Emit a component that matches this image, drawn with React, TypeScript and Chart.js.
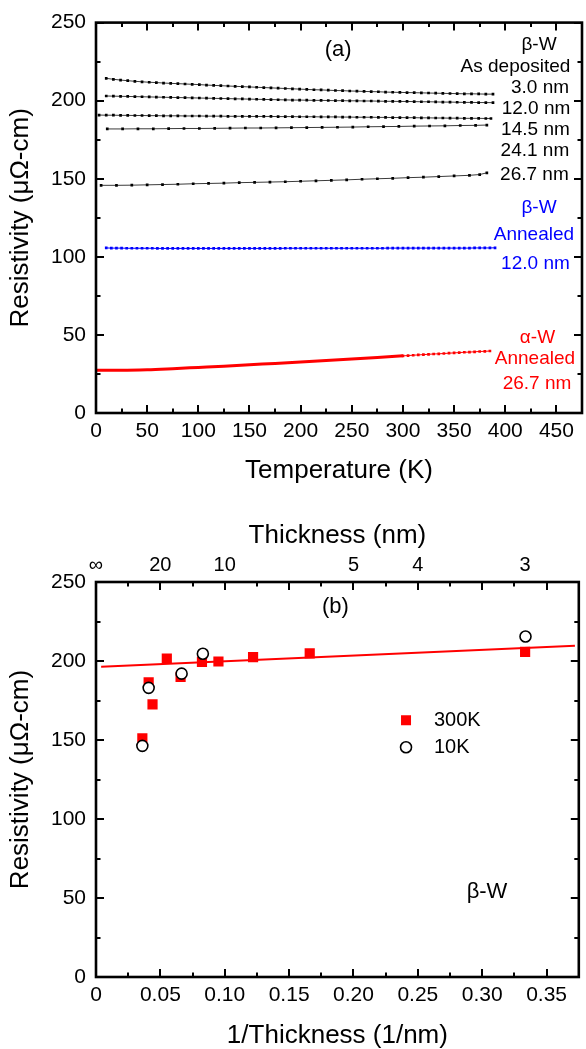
import React, { useEffect, useRef } from 'react';
import { Chart, registerables } from 'chart.js';

Chart.register(...registerables);

const FONT = "'Liberation Sans', Arial, Helvetica, sans-serif";

// ---------------- Panel (a): resistivity vs temperature ----------------
const TEMP_FINE = [10, 17, 24, 31, 38, 45, 52, 59, 66, 73, 80, 87, 94, 101, 108, 115, 122, 129, 136, 143, 150, 157, 164, 171, 178, 185, 192, 199, 206, 213, 220, 227, 234, 241, 248, 255, 262, 269, 276, 283, 290, 297, 304, 311, 318, 325, 332, 339, 346, 353, 360, 367, 374, 381, 388];
const RHO_3_0 = [214.3, 213.7, 213.2, 212.8, 212.4, 212.1, 211.8, 211.6, 211.3, 211.1, 210.9, 210.7, 210.5, 210.3, 210.0, 209.8, 209.6, 209.4, 209.2, 209.0, 208.8, 208.6, 208.4, 208.2, 208.0, 207.8, 207.6, 207.4, 207.2, 207.0, 206.9, 206.7, 206.5, 206.4, 206.2, 206.1, 205.9, 205.8, 205.7, 205.5, 205.4, 205.3, 205.2, 205.1, 205.0, 204.9, 204.8, 204.7, 204.6, 204.5, 204.4, 204.4, 204.3, 204.2, 204.2];
const RHO_12_0 = [203.0, 202.9, 202.8, 202.7, 202.6, 202.5, 202.4, 202.3, 202.2, 202.1, 202.0, 201.9, 201.8, 201.7, 201.6, 201.5, 201.4, 201.3, 201.2, 201.1, 201.0, 200.9, 200.8, 200.7, 200.6, 200.5, 200.4, 200.4, 200.3, 200.2, 200.2, 200.1, 200.0, 200.0, 199.9, 199.9, 199.8, 199.8, 199.7, 199.6, 199.6, 199.5, 199.5, 199.4, 199.3, 199.3, 199.2, 199.1, 199.1, 199.0, 198.9, 198.9, 198.8, 198.8, 198.7];
const TEMP_14_5 = [3, 10, 17, 24, 31, 38, 45, 52, 59, 66, 73, 80, 87, 94, 101, 108, 115, 122, 129, 136, 143, 150, 157, 164, 171, 178, 185, 192, 199, 206, 213, 220, 227, 234, 241, 248, 255, 262, 269, 276, 283, 290, 297, 304, 311, 318, 325, 332, 339, 346, 353, 360, 367, 374, 381, 386];
const RHO_14_5 = [190.8, 190.7, 190.7, 190.6, 190.6, 190.5, 190.5, 190.4, 190.4, 190.3, 190.3, 190.3, 190.2, 190.2, 190.2, 190.1, 190.1, 190.1, 190.0, 190.0, 190.0, 189.9, 189.9, 189.9, 189.9, 189.8, 189.8, 189.8, 189.7, 189.7, 189.7, 189.6, 189.6, 189.6, 189.5, 189.5, 189.4, 189.4, 189.4, 189.3, 189.3, 189.2, 189.2, 189.1, 189.1, 189.0, 189.0, 188.9, 188.9, 188.8, 188.8, 188.7, 188.7, 188.7, 188.6, 188.6];
const TEMP_24_1 = [11, 26, 41, 56, 71, 86, 101, 116, 131, 146, 161, 176, 191, 206, 221, 236, 251, 266, 281, 296, 311, 326, 341, 356, 371, 382];
const RHO_24_1 = [181.9, 181.9, 182.0, 182.0, 182.1, 182.2, 182.2, 182.3, 182.4, 182.5, 182.5, 182.6, 182.7, 182.8, 182.9, 183.0, 183.1, 183.3, 183.4, 183.5, 183.7, 183.8, 183.9, 184.1, 184.2, 184.4];
const TEMP_26_7 = [5, 20, 35, 50, 65, 80, 95, 110, 125, 140, 155, 170, 185, 200, 215, 230, 245, 260, 275, 290, 305, 320, 335, 350, 365, 375, 382];
const RHO_26_7 = [145.8, 145.8, 145.9, 146.1, 146.3, 146.5, 146.8, 147.0, 147.2, 147.5, 147.7, 147.9, 148.1, 148.4, 148.7, 149.0, 149.3, 149.7, 150.0, 150.3, 150.7, 151.0, 151.4, 151.8, 152.2, 152.7, 153.8];
const TEMP_BETA_ANN = [10, 15, 20, 25, 30, 35, 40, 45, 50, 55, 60, 65, 70, 75, 80, 85, 90, 95, 100, 105, 110, 115, 120, 125, 130, 135, 140, 145, 150, 155, 160, 165, 170, 175, 180, 185, 190, 195, 200, 205, 210, 215, 220, 225, 230, 235, 240, 245, 250, 255, 260, 265, 270, 275, 280, 285, 290, 295, 300, 305, 310, 315, 320, 325, 330, 335, 340, 345, 350, 355, 360, 365, 370, 375, 380, 385, 390];
const RHO_BETA_ANN = [105.7, 105.6, 105.6, 105.6, 105.5, 105.5, 105.5, 105.5, 105.5, 105.5, 105.4, 105.4, 105.4, 105.4, 105.4, 105.4, 105.4, 105.4, 105.4, 105.4, 105.4, 105.4, 105.4, 105.4, 105.4, 105.4, 105.4, 105.4, 105.4, 105.4, 105.4, 105.4, 105.4, 105.4, 105.4, 105.5, 105.5, 105.5, 105.5, 105.5, 105.5, 105.5, 105.5, 105.5, 105.5, 105.5, 105.5, 105.5, 105.5, 105.5, 105.5, 105.5, 105.5, 105.5, 105.5, 105.6, 105.6, 105.6, 105.6, 105.6, 105.6, 105.6, 105.6, 105.6, 105.6, 105.6, 105.6, 105.6, 105.6, 105.6, 105.6, 105.6, 105.7, 105.7, 105.7, 105.7, 105.8];
const TEMP_ALPHA_SOLID = [0, 25, 50, 75, 100, 125, 150, 175, 200, 225, 250, 275, 300];
const RHO_ALPHA_SOLID = [27.4, 27.4, 27.7, 28.4, 29.2, 30.0, 30.9, 31.7, 32.6, 33.6, 34.6, 35.6, 36.6];
const TEMP_ALPHA_DOT = [300, 305, 310, 315, 320, 325, 330, 335, 340, 345, 350, 355, 360, 365, 370, 375, 380, 385];
const RHO_ALPHA_DOT = [36.6, 36.8, 37.0, 37.2, 37.4, 37.6, 37.8, 37.9, 38.1, 38.3, 38.5, 38.7, 38.9, 39.0, 39.2, 39.4, 39.5, 39.7];

// ---------------- Panel (b): resistivity vs 1/thickness ----------------
const INV_T_300K = [0.036, 0.0409, 0.0439, 0.055, 0.0657, 0.0823, 0.0951, 0.122, 0.166, 0.3333];
const RHO_300K = [151, 186.5, 172.5, 201.5, 190, 199.5, 199.7, 202.5, 204.8, 205.8];
const INV_T_10K = [0.036, 0.0409, 0.0665, 0.083, 0.3336];
const RHO_10K = [146.3, 183, 192, 204.6, 215.5];
const FIT_X = [0.004, 0.372];
const FIT_Y = [196.3, 209.6];
const TOP_TICK_VALUES = [0, 0.05, 0.1, 0.2, 0.25, 1 / 3];
const TOP_TICK_LABELS = ['∞', '20', '10', '5', '4', '3'];

const BLUE = '#0000ff';
const RED = '#ff0000';

type Note = { text: string; x: number; y: number; color: string; size: number };

const NOTES_A: Note[] = [
  { text: '(a)', x: 236.7, y: 232.3, color: '#000', size: 22 },
  { text: 'β-W', x: 433, y: 235.5, color: '#000', size: 19 },
  { text: 'As deposited', x: 410, y: 221.8, color: '#000', size: 19 },
  { text: '3.0 nm', x: 434, y: 208.2, color: '#000', size: 19 },
  { text: '12.0 nm', x: 430, y: 194.9, color: '#000', size: 19 },
  { text: '14.5 nm', x: 429.5, y: 181.2, color: '#000', size: 19 },
  { text: '24.1 nm', x: 429, y: 168.2, color: '#000', size: 19 },
  { text: '26.7 nm', x: 428.5, y: 152.3, color: '#000', size: 19 },
  { text: 'β-W', x: 433, y: 131.3, color: BLUE, size: 19 },
  { text: 'Annealed', x: 428, y: 114.1, color: BLUE, size: 19 },
  { text: '12.0 nm', x: 429.5, y: 95.5, color: BLUE, size: 19 },
  { text: 'α-W', x: 431.5, y: 48.1, color: RED, size: 19 },
  { text: 'Annealed', x: 429, y: 34.5, color: RED, size: 19 },
  { text: '26.7 nm', x: 431, y: 18.7, color: RED, size: 19 },
];

const NOTES_B: Note[] = [
  { text: '(b)', x: 0.186, y: 234.4, color: '#000', size: 22 },
  { text: 'β-W', x: 0.3037, y: 54, color: '#000', size: 22 },
];

const pts = (xs: number[], ys: number[]) => xs.map((x, i) => ({ x, y: ys[i] }));

function framePlugin(xMinor: number, xMajorEvery: number, yMinor: number, yMajorEvery: number) {
  return {
    id: 'frameTicks',
    afterDraw(chart: any) {
      const { ctx, chartArea } = chart;
      const { left, right, top, bottom } = chartArea;
      const xs = chart.scales.x;
      const ys = chart.scales.y;
      ctx.save();
      ctx.strokeStyle = '#000';
      ctx.lineWidth = 2;
      ctx.beginPath();
      const nx = Math.round((xs.max - xs.min) / xMinor + 1e-6);
      for (let i = 0; i <= nx; i++) {
        const v = xs.min + i * xMinor;
        const px = Math.round(xs.getPixelForValue(v));
        const len = i % xMajorEvery === 0 ? 8 : 4.5;
        ctx.moveTo(px, bottom);
        ctx.lineTo(px, bottom - len);
        ctx.moveTo(px, top);
        ctx.lineTo(px, top + len);
      }
      const ny = Math.round((ys.max - ys.min) / yMinor + 1e-6);
      for (let i = 0; i <= ny; i++) {
        const v = ys.min + i * yMinor;
        const py = Math.round(ys.getPixelForValue(v));
        const len = i % yMajorEvery === 0 ? 8 : 4.5;
        ctx.moveTo(left, py);
        ctx.lineTo(left + len, py);
        ctx.moveTo(right, py);
        ctx.lineTo(right - len, py);
      }
      ctx.stroke();
      ctx.lineWidth = 2.6;
      ctx.strokeRect(left, top, right - left, bottom - top);
      ctx.restore();
    },
  };
}

function notesPlugin(notes: Note[], extra?: (chart: any) => void) {
  return {
    id: 'notes',
    afterDraw(chart: any) {
      const { ctx } = chart;
      const xs = chart.scales.x;
      const ys = chart.scales.y;
      ctx.save();
      ctx.textAlign = 'center';
      ctx.textBaseline = 'middle';
      for (const n of notes) {
        ctx.font = `${n.size}px ${FONT}`;
        ctx.fillStyle = n.color;
        ctx.fillText(n.text, xs.getPixelForValue(n.x), ys.getPixelForValue(n.y));
      }
      if (extra) extra(chart);
      ctx.restore();
    },
  };
}

// Legend of panel (b), drawn with the dataset styles
const LEGEND_B = [
  { label: '300K', x: 0.2408, tx: 0.2625, y: 162.5, kind: 'square' },
  { label: '10K', x: 0.2408, tx: 0.2625, y: 145.4, kind: 'circle' },
];

function drawLegendB(chart: any) {
  const { ctx } = chart;
  const xs = chart.scales.x;
  const ys = chart.scales.y;
  for (const item of LEGEND_B) {
    const px = xs.getPixelForValue(item.x);
    const py = ys.getPixelForValue(item.y);
    if (item.kind === 'square') {
      ctx.fillStyle = RED;
      ctx.fillRect(px - 5, py - 5, 10, 10);
    } else {
      ctx.beginPath();
      ctx.arc(px, py, 5.5, 0, Math.PI * 2);
      ctx.fillStyle = '#fff';
      ctx.fill();
      ctx.lineWidth = 1.6;
      ctx.strokeStyle = '#000';
      ctx.stroke();
    }
    ctx.font = `20px ${FONT}`;
    ctx.fillStyle = '#000';
    ctx.textAlign = 'left';
    ctx.textBaseline = 'middle';
    ctx.fillText(item.label, xs.getPixelForValue(item.tx), py);
  }
}

const tickFont = { family: FONT, size: 21 };
const topTickFont = { family: FONT, size: 20 };
const titleFont = { family: FONT, size: 26, lineHeight: 1 };

function blackLine(data: { x: number; y: number }[]) {
  return {
    data,
    showLine: true,
    borderColor: '#3a3a3a',
    borderWidth: 1,
    pointStyle: 'rect',
    pointRadius: 1.9,
    pointBorderWidth: 0,
    pointBackgroundColor: '#000',
  };
}

export default function App() {
  const refA = useRef<HTMLCanvasElement>(null);
  const refB = useRef<HTMLCanvasElement>(null);

  useEffect(() => {
    const chartA = new Chart(refA.current as HTMLCanvasElement, {
      type: 'scatter',
      data: {
        datasets: [
          blackLine(pts(TEMP_FINE, RHO_3_0)),
          blackLine(pts(TEMP_FINE, RHO_12_0)),
          blackLine(pts(TEMP_14_5, RHO_14_5)),
          blackLine(pts(TEMP_24_1, RHO_24_1)),
          blackLine(pts(TEMP_26_7, RHO_26_7)),
          {
            data: pts(TEMP_BETA_ANN, RHO_BETA_ANN),
            showLine: true,
            borderColor: BLUE,
            borderWidth: 1,
            pointStyle: 'rect',
            pointRadius: 1.9,
            pointBorderWidth: 0,
            pointBackgroundColor: BLUE,
          },
          {
            data: pts(TEMP_ALPHA_SOLID, RHO_ALPHA_SOLID),
            showLine: true,
            borderColor: RED,
            borderWidth: 3,
            pointRadius: 0,
            cubicInterpolationMode: 'monotone',
          },
          {
            data: pts(TEMP_ALPHA_DOT, RHO_ALPHA_DOT),
            showLine: true,
            borderColor: RED,
            borderWidth: 1,
            pointStyle: 'rect',
            pointRadius: 1.9,
            pointBorderWidth: 0,
            pointBackgroundColor: RED,
          },
        ] as any,
      },
      options: {
        animation: false,
        responsive: false,
        maintainAspectRatio: false,
        layout: { padding: { top: 17, right: 3, left: 0, bottom: 0 } },
        plugins: { legend: { display: false }, tooltip: { enabled: false } },
        scales: {
          x: {
            type: 'linear',
            position: 'bottom',
            min: 0,
            max: 475,
            ticks: { stepSize: 50, includeBounds: false, font: tickFont, color: '#000', padding: 6, maxRotation: 0, autoSkip: false },
            grid: { display: false, drawTicks: false },
            border: { display: false },
            title: { display: true, text: 'Temperature (K)', font: titleFont, color: '#000', padding: { top: 0, bottom: 16 } },
            afterFit: (s: any) => { s.height = 87; },
          },
          y: {
            type: 'linear',
            min: 0,
            max: 250,
            ticks: { stepSize: 50, font: tickFont, color: '#000', padding: 10 },
            grid: { display: false, drawTicks: false },
            border: { display: false },
            title: { display: true, text: 'Resistivity (μΩ-cm)', font: titleFont, color: '#000', padding: { top: 8, bottom: 0 } },
            afterFit: (s: any) => { s.width = 96; },
          },
        },
      } as any,
      plugins: [framePlugin(25, 2, 25, 2), notesPlugin(NOTES_A)],
    });

    const chartB = new Chart(refB.current as HTMLCanvasElement, {
      type: 'scatter',
      data: {
        datasets: [
          {
            data: pts(INV_T_10K, RHO_10K),
            pointStyle: 'circle',
            pointRadius: 5.5,
            pointBorderWidth: 1.6,
            pointBorderColor: '#000',
            pointBackgroundColor: '#fff',
            order: 0,
          },
          {
            data: pts(INV_T_300K, RHO_300K),
            pointStyle: 'rect',
            pointRadius: 7.2,
            pointBorderWidth: 0,
            pointBackgroundColor: RED,
            order: 1,
          },
          {
            data: pts(FIT_X, FIT_Y),
            showLine: true,
            borderColor: RED,
            borderWidth: 2,
            pointRadius: 0,
            order: 2,
          },
        ] as any,
      },
      options: {
        animation: false,
        responsive: false,
        maintainAspectRatio: false,
        layout: { padding: { top: 0, right: 1, left: 0, bottom: 0 } },
        plugins: { legend: { display: false }, tooltip: { enabled: false } },
        scales: {
          x: {
            type: 'linear',
            position: 'bottom',
            min: 0,
            max: 0.375,
            ticks: {
              stepSize: 0.05,
              includeBounds: false,
              font: tickFont,
              color: '#000',
              padding: 6,
              maxRotation: 0,
              autoSkip: false,
              callback: (v: any) => (Math.abs(v) < 1e-9 ? '0' : Number(v).toFixed(2)),
            },
            grid: { display: false, drawTicks: false },
            border: { display: false },
            title: { display: true, text: '1/Thickness (1/nm)', font: titleFont, color: '#000', padding: { top: 0, bottom: 0 } },
            afterFit: (s: any) => { s.height = 72; },
          },
          x2: {
            type: 'linear',
            position: 'top',
            min: 0,
            max: 0.375,
            afterBuildTicks: (s: any) => { s.ticks = TOP_TICK_VALUES.map((v) => ({ value: v })); },
            ticks: {
              font: topTickFont,
              color: '#000',
              padding: 5,
              maxRotation: 0,
              autoSkip: false,
              callback: (_v: any, i: number) => TOP_TICK_LABELS[i],
            },
            grid: { display: false, drawTicks: false },
            border: { display: false },
            title: { display: true, text: 'Thickness (nm)', font: titleFont, color: '#000', padding: { top: 23, bottom: 0 } },
            afterFit: (s: any) => { s.height = 82; },
          },
          y: {
            type: 'linear',
            min: 0,
            max: 250,
            ticks: { stepSize: 50, font: tickFont, color: '#000', padding: 10 },
            grid: { display: false, drawTicks: false },
            border: { display: false },
            title: { display: true, text: 'Resistivity (μΩ-cm)', font: titleFont, color: '#000', padding: { top: 8, bottom: 0 } },
            afterFit: (s: any) => { s.width = 96; },
          },
        },
      } as any,
      plugins: [framePlugin(0.025, 2, 25, 2), notesPlugin(NOTES_B, drawLegendB)],
    });

    return () => {
      chartA.destroy();
      chartB.destroy();
    };
  }, []);

  return (
    <div style={{ position: 'fixed', left: 0, top: 0, width: 586, height: 1049, background: '#fff' }}>
      <canvas ref={refA} width={586} height={500} style={{ position: 'absolute', left: 0, top: 0 }} />
      <canvas ref={refB} width={586} height={549} style={{ position: 'absolute', left: 0, top: 500 }} />
    </div>
  );
}
